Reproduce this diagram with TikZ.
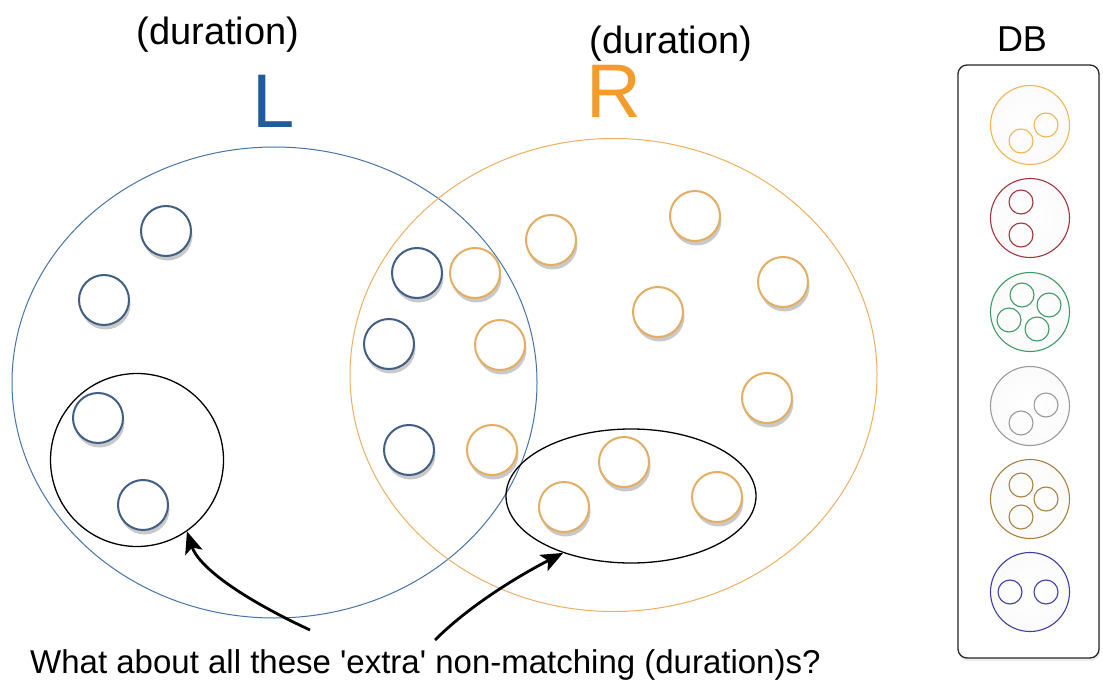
\documentclass[tikz,border=0pt]{standalone}
\usepackage{fontspec}
\setmainfont{Liberation Sans}
\usetikzlibrary{shadows,arrows.meta,shapes.geometric}
\definecolor{Lblue}{HTML}{1F5C9E}
\definecolor{Lline}{HTML}{4573A8}
\definecolor{Rorange}{HTML}{F39C2B}
\definecolor{Rline}{HTML}{EDB061}
\definecolor{sblue}{HTML}{415F82}
\definecolor{sorange}{HTML}{E3AE62}
\definecolor{dborange}{HTML}{F2B552}
\definecolor{dbred}{HTML}{A3343C}
\definecolor{dbgreen}{HTML}{3E9A66}
\definecolor{dbgray}{HTML}{9A9A9A}
\definecolor{dbbrown}{HTML}{A9803F}
\definecolor{dbblue}{HTML}{3D3FA0}
\pgfdeclareradialshading{bglow}{\pgfpoint{0bp}{0bp}}{color(0bp)=(white); color(40bp)=(white); color(50bp)=(blue!10); color(60bp)=(blue!10)}
\pgfdeclareradialshading{oglow}{\pgfpoint{0bp}{0bp}}{color(0bp)=(white); color(40bp)=(white); color(50bp)=(orange!14); color(60bp)=(orange!14)}
\pgfdeclareradialshading{dglow}{\pgfpoint{0bp}{0bp}}{color(0bp)=(white); color(30bp)=(gray!4); color(50bp)=(gray!10); color(60bp)=(gray!10)}
\tikzset{
  sm/.style={circle, line width=2pt, minimum size=50pt, inner sep=0pt,
    drop shadow={shadow xshift=1.5pt, shadow yshift=-4.5pt, opacity=0.42}},
  bsm/.style={sm, draw=sblue, shading=bglow},
  osm/.style={sm, draw=sorange, shading=oglow},
  bigset/.style={ellipse, line width=1pt, inner sep=0pt},
  grp/.style={draw=black, line width=1.3pt, inner sep=0pt},
  ptr/.style={line width=2.8pt, -{Stealth[length=22pt,width=18pt,inset=5pt]}},
  dbc/.style={circle, line width=1.1pt, minimum size=79pt, inner sep=0pt, shading=dglow},
  dbi/.style={circle, line width=1.1pt, minimum size=24pt, inner sep=0pt},
}
\begin{document}
\begin{tikzpicture}[x=1pt,y=-1pt]
\fill[white] (0,0) rectangle (1103,687);
\useasboundingbox (0,0) rectangle (1103,687);

% big sets
\node[bigset, draw=Lline, minimum width=525pt, minimum height=471pt] (Lset) at (274.5,382.5) {};
\node[bigset, draw=Rline, minimum width=527pt, minimum height=473pt] (Rset) at (613.5,375) {};

% groups
\node[grp, circle, minimum size=173pt] (leftgrp) at (137,460) {};
\node[grp, ellipse, minimum width=250pt, minimum height=134pt] (rightgrp) at (631,496) {};

% blue elements
\node[bsm] (b1) at (166,231) {};
\node[bsm] (b2) at (104,300) {};
\node[bsm] (b3) at (98,418) {};
\node[bsm] (b4) at (143,505) {};
\node[bsm] (b5) at (417,273) {};
\node[bsm] (b6) at (389,344) {};
\node[bsm] (b7) at (409,450) {};

% orange elements
\node[osm] (o1) at (475,273) {};
\node[osm] (o2) at (500,345) {};
\node[osm] (o3) at (492,450) {};
\node[osm] (o4) at (551,240) {};
\node[osm] (o5) at (695,216) {};
\node[osm] (o6) at (658,312) {};
\node[osm] (o7) at (783,282) {};
\node[osm] (o8) at (767,398) {};
\node[osm] (o9) at (624,462) {};
\node[osm] (o10) at (564,507) {};
\node[osm] (o11) at (717,497) {};

% labels
\node[font=\fontsize{38}{40}\selectfont, anchor=base] (durL) at (218,45) {(duration)};
\node[font=\fontsize{38}{40}\selectfont, anchor=base] (durR) at (671,54) {(duration)};
\node[font=\fontsize{76}{80}\selectfont, text=Lblue, anchor=base] (Llab) at (274,128) {L};
\node[font=\fontsize{76}{80}\selectfont, text=Rorange, anchor=base] (Rlab) at (614,118) {R};
\node[font=\fontsize{36}{40}\selectfont, anchor=base] (dblab) at (1022,52) {DB};

% question
\node[font=\fontsize{33}{36}\selectfont, anchor=base west, inner sep=0pt] (q) at (30,673)
  {What about all these \textquotesingle extra\textquotesingle{} non-matching (duration)s?};
\coordinate (a1s) at (310,630);
\coordinate (a2s) at (435,640);
\draw[ptr] (a1s) .. controls (235,595) and (198,565) .. (leftgrp.-55);
\draw[ptr] (a2s) .. controls (470,605) and (520,575) .. (rightgrp.-140);

% DB box
\node[draw=black!85, line width=1.3pt, rounded corners=9pt, fill=white,
  minimum width=141pt, minimum height=593pt, inner sep=0pt,
  drop shadow={shadow xshift=1pt, shadow yshift=-3pt, opacity=0.15}] (db) at (1028.5,361.5) {};

\node[dbc, draw=dborange] (d1) at (1030,125) {};
\node[dbi, draw=dborange] (d1a) at (1021,141) {};
\node[dbi, draw=dborange] (d1b) at (1046,125) {};

\node[dbc, draw=dbred] (d2) at (1030,218) {};
\node[dbi, draw=dbred] (d2a) at (1021,202) {};
\node[dbi, draw=dbred] (d2b) at (1021,235) {};

\node[dbc, draw=dbgreen] (d3) at (1030,312) {};
\node[dbi, draw=dbgreen] (d3a) at (1022,295) {};
\node[dbi, draw=dbgreen] (d3b) at (1049,305) {};
\node[dbi, draw=dbgreen] (d3c) at (1009,320) {};
\node[dbi, draw=dbgreen] (d3d) at (1037,329) {};

\node[dbc, draw=dbgray] (d4) at (1030,406) {};
\node[dbi, draw=dbgray] (d4a) at (1021,423) {};
\node[dbi, draw=dbgray] (d4b) at (1046,405) {};

\node[dbc, draw=dbbrown] (d5) at (1030,499) {};
\node[dbi, draw=dbbrown] (d5a) at (1021,485) {};
\node[dbi, draw=dbbrown] (d5b) at (1046,499) {};
\node[dbi, draw=dbbrown] (d5c) at (1021,517) {};

\node[dbc, draw=dbblue] (d6) at (1030,592) {};
\node[dbi, draw=dbblue] (d6a) at (1010,592) {};
\node[dbi, draw=dbblue] (d6b) at (1046,592) {};
\end{tikzpicture}
\end{document}
